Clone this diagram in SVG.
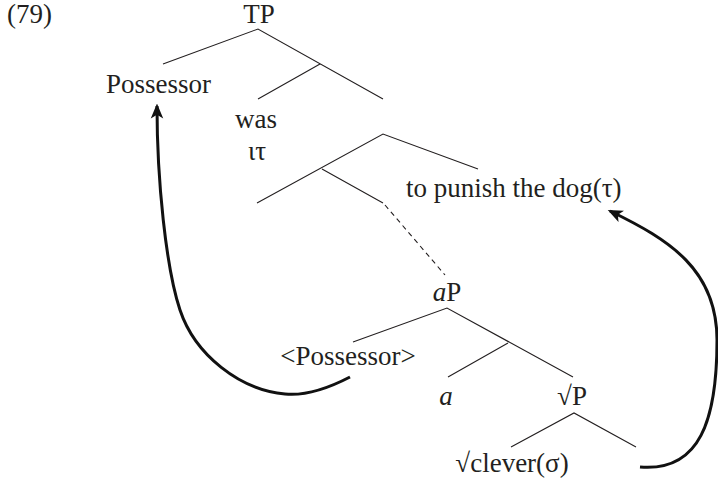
<svg xmlns="http://www.w3.org/2000/svg" width="718" height="482" viewBox="0 0 718 482">
<style>
text{font-family:"Liberation Serif","Times New Roman",serif;font-size:27px;fill:#231f20}
.m{text-anchor:middle}
.e{stroke:#231f20;stroke-width:1.1;fill:none}
.d{stroke:#231f20;stroke-width:1.1;fill:none;stroke-dasharray:5 4}
.a{stroke:#111;stroke-width:3;fill:none;marker-end:url(#ah)}
</style>
<defs>
<marker id="ah" viewBox="0 0 12 10" refX="10" refY="5" markerWidth="5" markerHeight="4.5" orient="auto" markerUnits="strokeWidth">
<path d="M0,0 L12,5 L0,10 L3,5 Z" fill="#111"/>
</marker>
</defs>
<g id="label79"><text x="7" y="23">(79)</text></g>
<g id="TP"><text class="m" x="259" y="23">TP</text></g>
<g id="Possessor"><text x="106" y="93">Possessor</text></g>
<g id="was"><text class="m" x="256" y="128">was</text><text class="m" x="257" y="160">ιτ</text></g>
<g id="toPunish"><text x="406" y="197">to punish the dog(τ)</text></g>
<g id="aP"><text class="m" x="447" y="301"><tspan font-style="italic">a</tspan>P</text></g>
<g id="PossessorCopy"><text class="m" x="348" y="365">&lt;Possessor&gt;</text></g>
<g id="a"><text class="m" x="446" y="405" font-style="italic">a</text></g>
<g id="rootP"><text class="m" x="572" y="405">√P</text></g>
<g id="clever"><text class="m" x="512" y="472">√clever(σ)</text></g>
<g id="connectors">
<path class="e" d="M163,64 L258,29 L383,99 M320,64 L258,99"/>
<path class="e" d="M257,203 L383,134 L478,169 M322,169 L383,203"/>
<path class="d" d="M385,205 L445,275"/>
<path class="e" d="M353,342 L447,308 L573,377 M508,343 L448,377"/>
<path class="e" d="M511,447 L574,413 L636,447"/>
<path class="a" d="M350,377 C325,390 305,396 285,394 C240,390 195,355 180,310 C166,268 157,180 157,106"/>
<path class="a" d="M640,467 C700,472 717,420 717,340 C717,270 670,240 610,211"/>
</g>
</svg>
